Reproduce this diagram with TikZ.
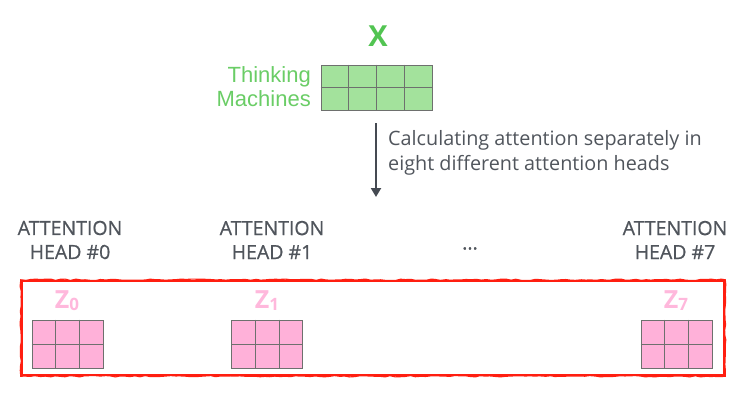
\documentclass[tikz,border=0pt]{standalone}
\usepackage{fontspec}
\setmainfont{Open Sans}
\newfontfamily\helv{Liberation Sans}
\newfontfamily\semi[FakeBold=0.7]{Open Sans}
\usetikzlibrary{arrows.meta,calc,decorations.pathmorphing}
\definecolor{txtgray}{HTML}{50555C}
\definecolor{arrgray}{HTML}{454A52}
\definecolor{xgreen}{HTML}{52C452}
\definecolor{tgreen}{HTML}{6ACD66}
\definecolor{gfill}{HTML}{A3E29C}
\definecolor{cellline}{HTML}{6E706E}
\definecolor{pfill}{HTML}{FFB1D9}
\definecolor{ztext}{HTML}{FFB8DC}
\definecolor{redbox}{HTML}{FF1E10}
\tikzset{
  headlbl/.style={text=txtgray, font=\semi\fontsize{19.5}{24}\selectfont, align=center, inner sep=0},
  zlbl/.style={text=ztext, font=\bfseries\fontsize{25}{25}\selectfont, inner sep=0, anchor=base},
  pgrid/.style={draw=cellline, fill=pfill, line width=0.8pt, minimum width=71pt, minimum height=48pt, inner sep=0},
}
\begin{document}
\begin{tikzpicture}[x=1pt,y=-1pt]
\useasboundingbox (0,0) rectangle (731,408);
% X
\node[text=xgreen, font=\bfseries\fontsize{29}{29}\selectfont, inner sep=0] (xlbl) at (378,36) {X};
\node[draw=cellline, fill=gfill, line width=0.8pt, minimum width=111pt, minimum height=45pt, inner sep=0] (xgrid) at (376.5,87.5) {};
\foreach \i in {1,2,3} \draw[cellline, line width=0.8pt] ($(xgrid.north west)!{\i/4}!(xgrid.north east)$) -- ($(xgrid.south west)!{\i/4}!(xgrid.south east)$);
\draw[cellline, line width=0.8pt] (xgrid.west) -- (xgrid.east);
\node[text=tgreen, font=\helv\fontsize{22}{24}\selectfont, align=right, anchor=east, inner sep=0] (words) at (311,87) {Thinking\\Machines};
% arrow
\coordinate (as) at (376,123);
\coordinate (ae) at (376,197);
\draw[arrgray, line width=2pt, -{Triangle[length=9pt,width=10pt]}] (as) -- (ae);
\node[text=txtgray, font=\fontsize{19.8}{25}\selectfont, align=left, anchor=west, inner sep=0] (calc) at (388,152.5) {Calculating attention separately in\\eight different attention heads};
% heads
\node[headlbl] (h0) at (70,240) {ATTENTION\\HEAD \#0};
\node[headlbl] (h1) at (272,240) {ATTENTION\\HEAD \#1};
\node[headlbl, anchor=base] (dots) at (470,249.5) {...};
\node[headlbl] (h7) at (675,240) {ATTENTION\\HEAD \#7};
% red box
\node[draw=redbox, line width=2.4pt, minimum width=702pt, minimum height=94pt, inner sep=0] (box) at (373,328) {};
\draw[redbox, line width=1.2pt, decorate, decoration={random steps, segment length=5pt, amplitude=0.7pt}]
  (box.north west) -- (box.north east) -- (box.south east) -- (box.south west) -- cycle;
% Z grids
\foreach \n/\cx/\lx/\s in {z0/67.5/67/0, z1/267/267/1, z7/676.5/676/7} {
  \node[pgrid] (\n) at (\cx,344) {};
  \foreach \i in {1,2} \draw[cellline, line width=0.8pt] ($(\n.north west)!{\i/3}!(\n.north east)$) -- ($(\n.south west)!{\i/3}!(\n.south east)$);
  \draw[cellline, line width=0.8pt] (\n.west) -- (\n.east);
  \node[zlbl] (\n lbl) at (\lx,308) {Z\raisebox{-2pt}{\fontsize{17}{17}\selectfont\s}};
}
\end{tikzpicture}
\end{document}
